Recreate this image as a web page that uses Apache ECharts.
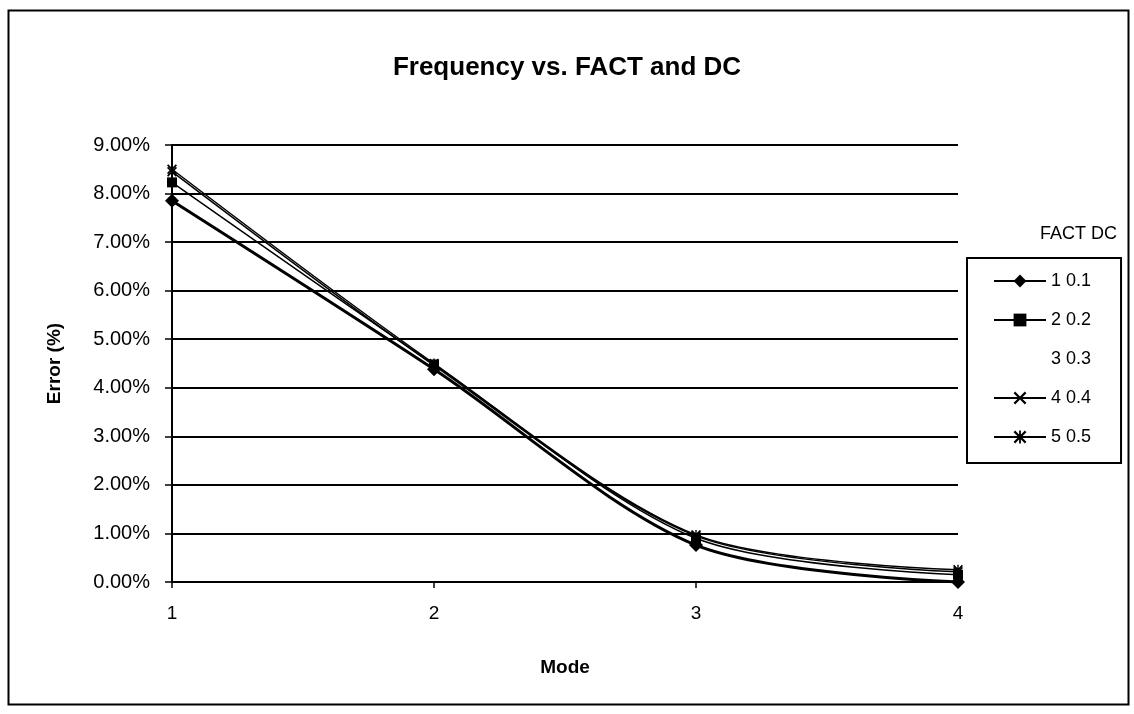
<!DOCTYPE html>
<html>
<head>
<meta charset="utf-8">
<script src="https://cdn.jsdelivr.net/npm/echarts@6/dist/echarts.min.js"></script>
<style>
html,body{margin:0;padding:0;background:#fff;}
#chart{width:1134px;height:714px;}
</style>
</head>
<body>
<div id="chart"></div>
<script>
// Data
var modes = [1, 2, 3, 4];
var seriesNames = ['1 0.1', '2 0.2', '3 0.3', '4 0.4', '5 0.5'];
var s1 = [0.0785, 0.0438, 0.0076, 0.0000];
var s2 = [0.0823, 0.0448, 0.0090, 0.0015];
var s3 = [0.0835, 0.0446, 0.0092, 0.0018];
var s4 = [0.0845, 0.0446, 0.0095, 0.0021];
var s5 = [0.0850, 0.0450, 0.0097, 0.0025];

var FONT = 'Liberation Sans';
function pairs(vals){ return modes.map(function(m,i){ return [m, vals[i]]; }); }

var xSym = 'path://M0,1.2 L1.2,0 L5,3.8 L8.8,0 L10,1.2 L6.2,5 L10,8.8 L8.8,10 L5,6.2 L1.2,10 L0,8.8 L3.8,5 Z';
var starSym = 'path://M0,1.2 L1.2,0 L5,3.8 L8.8,0 L10,1.2 L6.2,5 L10,8.8 L8.8,10 L5,6.2 L1.2,10 L0,8.8 L3.8,5 Z M4.3,0 L5.7,0 L5.7,10 L4.3,10 Z';

function mk(name, vals, symbol, size, width, hidden){
  return {
    name: name, type: 'line', data: pairs(vals), smooth: 0.3,
    symbol: hidden ? 'none' : symbol, symbolSize: size,
    showSymbol: !hidden,
    lineStyle: {color: '#000', width: width, opacity: hidden ? 0 : 1},
    itemStyle: {color: '#000', opacity: hidden ? 0 : 1},
    emphasis: {disabled: true},
    animation: false, z: 3
  };
}

var chart = echarts.init(document.getElementById('chart'));
chart.setOption({
  animation: false,
  backgroundColor: '#fff',
  title: {
    text: 'Frequency vs. FACT and DC', left: 'center', top: 50,
    textStyle: {fontFamily: FONT, fontSize: 26, fontWeight: 'bold', color: '#000'}
  },
  graphic: [
    {type: 'rect', left: 6, top: 8, shape: {width: 1120, height: 694}, style: {fill: 'none', stroke: '#000', lineWidth: 2}, z: -1},
    {type: 'text', left: 1040, top: 225, style: {text: 'FACT DC', font: '18px "Liberation Sans"', fill: '#000'}}
  ],
  legend: {
    orient: 'vertical', left: 967, top: 258,
    padding: [13, 30, 16, 26],
    itemGap: 19, itemWidth: 52, itemHeight: 16,
    borderColor: '#000', borderWidth: 2,
    data: seriesNames,
    textStyle: {fontFamily: FONT, fontSize: 18, color: '#000', lineHeight: 20}
  },
  grid: {left: 172, right: 176, top: 145, bottom: 132},
  xAxis: {
    type: 'value', min: 1, max: 4, interval: 1,
    name: 'Mode', nameLocation: 'middle', nameGap: 76,
    nameTextStyle: {fontFamily: FONT, fontSize: 19, fontWeight: 'bold', color: '#000'},
    axisLine: {show: true, lineStyle: {color: '#000', width: 2}},
    axisTick: {show: true, length: 6, lineStyle: {color: '#000', width: 1.5}},
    axisLabel: {margin: 22, fontFamily: FONT, fontSize: 19, color: '#000'},
    splitLine: {show: false}
  },
  yAxis: {
    type: 'value', min: 0, max: 0.09, interval: 0.01,
    name: 'Error (%)', nameLocation: 'middle', nameGap: 108,
    nameTextStyle: {fontFamily: FONT, fontSize: 19, fontWeight: 'bold', color: '#000'},
    axisLine: {show: true, lineStyle: {color: '#000', width: 2}},
    axisTick: {show: true, length: 7, lineStyle: {color: '#000', width: 1.5}},
    axisLabel: {margin: 22, fontFamily: FONT, fontSize: 20, color: '#000',
      formatter: function(v){ return (v*100).toFixed(2) + '%'; }},
    splitLine: {show: true, lineStyle: {color: '#000', width: 2}}
  },
  series: [
    mk(seriesNames[0], s1, 'diamond', 14, 3, false),
    mk(seriesNames[1], s2, 'rect', 10, 1.5, false),
    mk(seriesNames[2], s3, 'none', 0, 1.5, true),
    mk(seriesNames[3], s4, xSym, 10, 1.5, false),
    mk(seriesNames[4], s5, starSym, 10, 1.5, false)
  ]
});
</script>
</body>
</html>
